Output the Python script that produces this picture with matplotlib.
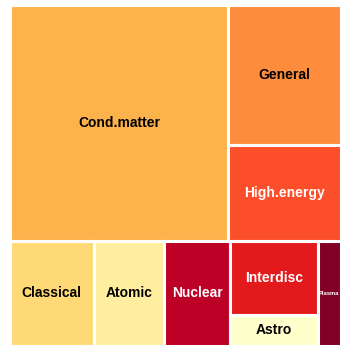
import matplotlib
matplotlib.use("Agg")
import matplotlib.pyplot as plt
from matplotlib.patches import Rectangle

# tile data
labels = ["Cond.matter", "General", "High.energy", "Classical", "Atomic",
          "Nuclear", "Interdisc", "Astro", "Plasma"]
values = [45.9, 14.0, 9.5, 7.8, 6.5, 6.1, 5.7, 2.4, 2.1]
colors = ["#FEB24C", "#FD8D3C", "#FC4E2A", "#FED976", "#FFEDA0",
          "#BD0026", "#E31A1C", "#FFFFCC", "#800026"]
text_colors = ["black", "black", "white", "black", "black",
               "white", "white", "black", "white"]

# how the tiles are nested: "h" = side by side, "v" = stacked
layout = ("v", [("h", [0, ("v", [1, 2])]),
                ("h", [3, 4, 5, ("v", [6, 7]), 8])])

plt.rcParams['font.family'] = ['Liberation Sans', 'DejaVu Sans']

fig = plt.figure(figsize=(3.5, 3.5), dpi=100)
ax = fig.add_axes([9.5 / 350, 4.5 / 350, 331 / 350, 341 / 350])
ax.set_xlim(0, 1)
ax.set_ylim(1, 0)
ax.axis('off')

tiles = []


def total(node):
    if isinstance(node, int):
        return values[node]
    return sum(total(k) for k in node[1])


def place(node, x, y, w, h):
    if isinstance(node, int):
        tiles.append((node, x, y, w, h))
        return
    d, kids = node
    tot = total(node)
    off = 0
    for k in kids:
        f = total(k) / tot
        if d == "h":
            place(k, x + off, y, w * f, h)
            off += w * f
        else:
            place(k, x, y + off, w, h * f)
            off += h * f


place(layout, 0, 0, 1, 1)

fig.canvas.draw()
renderer = fig.canvas.get_renderer()

for i, x, y, w, h in tiles:
    ax.add_patch(Rectangle((x, y), w, h, facecolor=colors[i],
                           edgecolor="white", linewidth=2.2))
    t = ax.text(x + w / 2, y + h / 2, labels[i], ha="center", va="center",
                fontsize=10, fontweight="bold", color=text_colors[i])
    # shrink label if it does not fit the tile
    tw = t.get_window_extent(renderer).width
    pw = ax.transData.transform((w, 0))[0] - ax.transData.transform((0, 0))[0]
    if tw > pw * 0.9:
        t.set_fontsize(10 * pw * 0.9 / tw)

fig.savefig("out.png", dpi=100, facecolor="white")
